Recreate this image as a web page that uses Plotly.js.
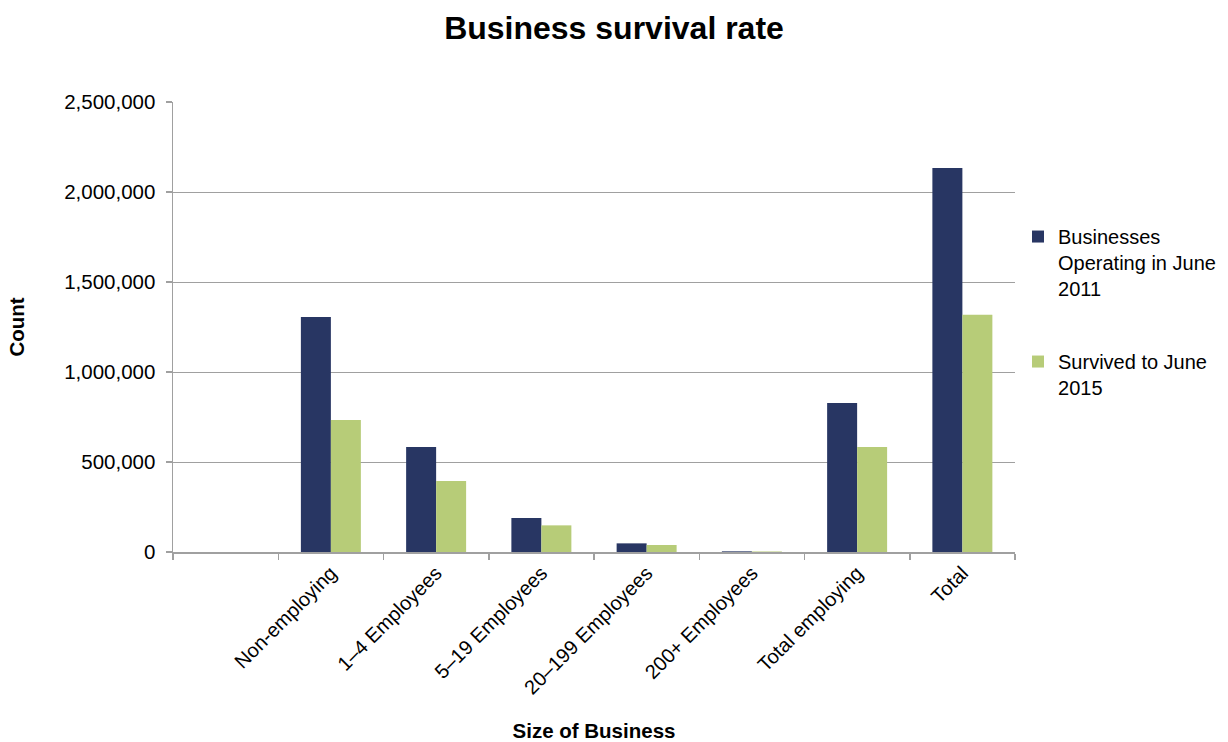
<!DOCTYPE html>
<html>
<head>
<meta charset="utf-8">
<script src="https://cdn.plot.ly/plotly-3.0.1.min.js"></script>
<style>html,body{margin:0;padding:0;background:#fff;}#chart{width:1228px;height:742px;}</style>
</head>
<body>
<div id="chart"></div>
<script>
const categories = [" ", "Non-employing", "1–4 Employees", "5–19 Employees", "20–199 Employees", "200+ Employees", "Total employing", "Total"];
const operating2011 = [null, 1305000, 583000, 189000, 48000, 3600, 828000, 2133000];
const survived2015 = [null, 733000, 394000, 148000, 39000, 2900, 583000, 1318000];
const seriesNames = ["Businesses<br>Operating in June<br>2011", "Survived to June<br>2015"];

const font = "Liberation Sans, Arial, sans-serif";
const data = [
  {type: "bar", x: categories, y: operating2011, name: seriesNames[0], legendgroup: "a",
   marker: {color: "#283663", line: {width: 0}}, hoverinfo: "y"},
  {type: "bar", x: categories, y: survived2015, name: seriesNames[1], legendgroup: "b",
   marker: {color: "#b7cc78", line: {width: 0}}, hoverinfo: "y"}
];
const layout = {
  width: 1228, height: 742,
  paper_bgcolor: "#fff", plot_bgcolor: "#fff",
  margin: {l: 173, r: 213, t: 102, b: 190, autoexpand: false},
  font: {family: font, size: 20, color: "#000"},
  title: {text: "<b>Business survival rate</b>", font: {family: font, size: 32, color: "#000"},
          x: 0.5, xref: "container", y: 0.962, yref: "container", yanchor: "middle"},
  barmode: "group", bargap: 0.43, bargroupgap: 0,
  xaxis: {
    type: "category", tickangle: -45, tickson: "boundaries",
    ticks: "outside", ticklen: 6, tickcolor: "#a0a0a0", tickwidth: 1.5,
    showline: true, linecolor: "#a0a0a0", linewidth: 1.5,
    showgrid: false, tickfont: {family: font, size: 20, color: "#000"},
    title: {text: "<b>Size of Business</b>", font: {family: font, size: 20.5, color: "#000"}, standoff: 28}
  },
  yaxis: {
    range: [0, 2500000], dtick: 500000, tickformat: ",d",
    ticks: "outside", ticklen: 6, tickcolor: "#a0a0a0", tickwidth: 1.5,
    showline: true, linecolor: "#a0a0a0", linewidth: 1.5, ticklabelstandoff: 6,
    showgrid: true, gridcolor: "#a0a0a0", gridwidth: 1, zeroline: false,
    tickfont: {family: font, size: 20.5, color: "#000"},
    title: {text: "<b>Count</b>", font: {family: font, size: 20.5, color: "#000"}, standoff: 34}
  },
  legend: {
    xref: "container", yref: "container",
    x: 0.829, xanchor: "left", y: 0.7075, yanchor: "top", valign: "top",
    font: {family: font, size: 20, color: "#000"},
    tracegroupgap: 44, itemwidth: 30, traceorder: "grouped",
    bgcolor: "rgba(0,0,0,0)"
  },
  showlegend: true
};
Plotly.newPlot("chart", data, layout, {displayModeBar: false, staticPlot: true});
</script>
</body>
</html>
